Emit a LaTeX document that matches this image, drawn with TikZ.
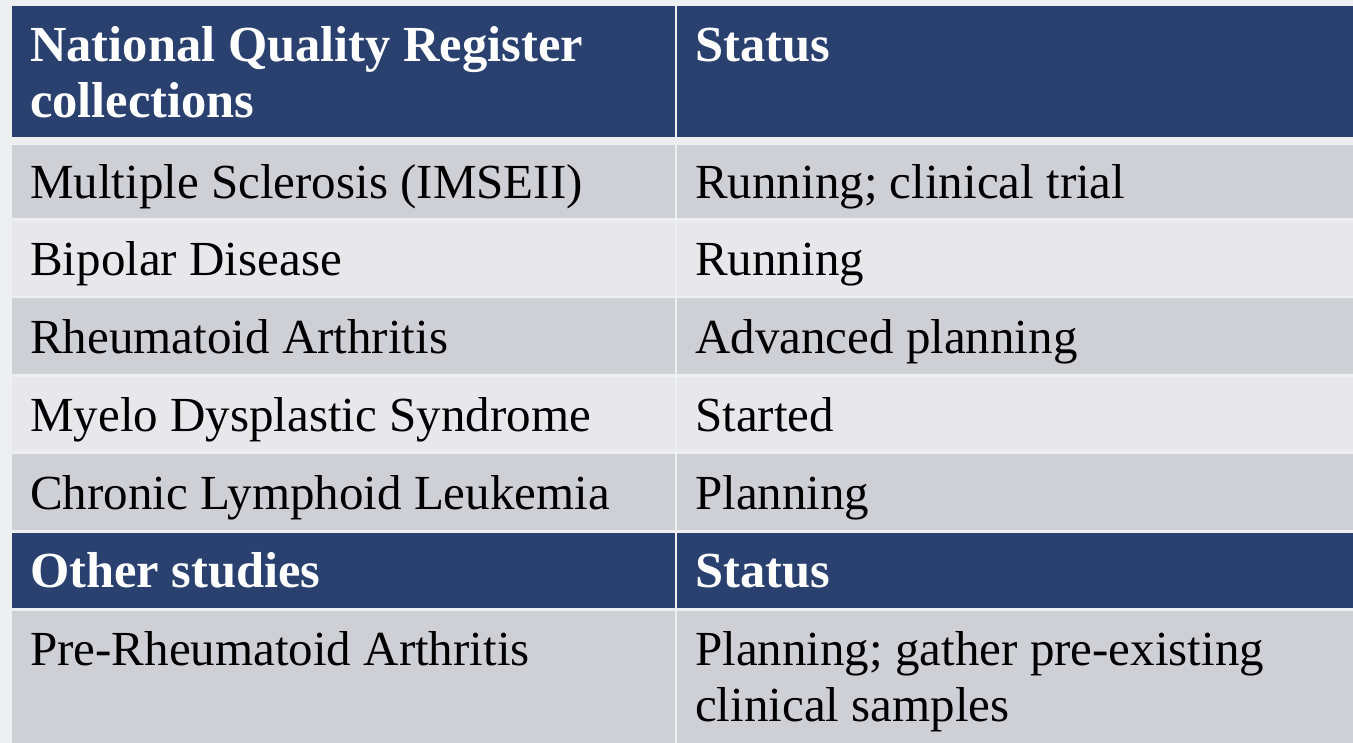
\documentclass[tikz,border=0pt]{standalone}
\usepackage{fontspec}
\setmainfont{Liberation Serif}
\usetikzlibrary{positioning}
\definecolor{hdrblue}{RGB}{42,65,112}
\definecolor{rowdark}{RGB}{207,208,213}
\definecolor{rowlight}{RGB}{232,232,235}
\definecolor{pagegray}{RGB}{238,239,240}
\tikzset{
  hdrtext/.style={anchor=base west, inner sep=0pt, text=white,
    font=\fontsize{50.5}{56}\selectfont\bfseries},
  celltext/.style={anchor=base west, inner sep=0pt, text=black,
    font=\fontsize{49}{56}\selectfont},
}
\begin{document}
\begin{tikzpicture}[x=1pt,y=-1pt]
\useasboundingbox (0,0) rectangle (1353,743);
\fill[pagegray] (0,0) rectangle (1353,743);
% header
\fill[hdrblue] (12,6) rectangle (674.7,137.3);
\fill[hdrblue] (677,6) rectangle (1353,137.3);
% rows
\foreach \top/\bot/\col in {145/217.7/rowdark, 220.7/296/rowlight,
    298.5/374/rowdark, 376.7/451.3/rowlight, 454.3/530/rowdark,
    532.7/607.7/hdrblue, 611/743/rowdark}{
  \fill[\col] (12,\top) rectangle (674.7,\bot);
  \fill[\col] (677,\top) rectangle (1353,\bot);
}
% texts
\node[hdrtext] (regA) at (30,61.7) {National Quality Register};
\node[hdrtext] (regB) at (30,118) {collections};
\node[hdrtext] (statA) at (695,61.7) {Status};
\node[celltext] (ms) at (30,198.3) {Multiple Sclerosis (IMSEII)};
\node[celltext] (msst) at (695,198.3) {Running; clinical trial};
\node[celltext] (bd) at (30,276) {Bipolar Disease};
\node[celltext] (bdst) at (695,276) {Running};
\node[celltext] (ra) at (30,353.8) {Rheumatoid Arthritis};
\node[celltext] (rast) at (695,353.8) {Advanced planning};
\node[celltext] (mds) at (30,431.6) {Myelo Dysplastic Syndrome};
\node[celltext] (mdsst) at (695,431.6) {Started};
\node[celltext] (cll) at (30,509.4) {Chronic Lymphoid Leukemia};
\node[celltext] (cllst) at (695,509.4) {Planning};
\node[hdrtext] (oth) at (30,587.5) {Other studies};
\node[hdrtext] (statB) at (695,587.5) {Status};
\node[celltext] (pra) at (30,665) {Pre-Rheumatoid Arthritis};
\node[celltext] (prastA) at (695,665) {Planning; gather pre-existing};
\node[celltext] (prastB) at (695,721.7) {clinical samples};
\end{tikzpicture}
\end{document}
